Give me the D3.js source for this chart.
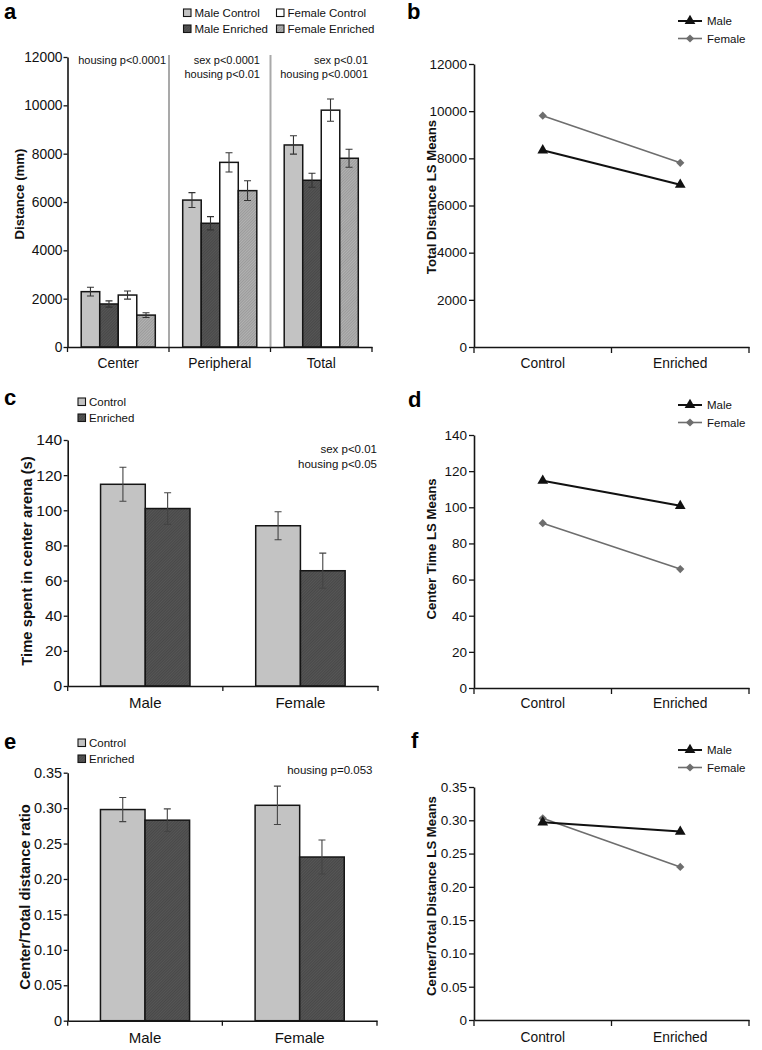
<!DOCTYPE html>
<html><head><meta charset="utf-8">
<script src="https://cdn.jsdelivr.net/npm/d3@7"></script>
<style>
body{margin:0;background:#fff}
svg{display:block;font-family:"Liberation Sans",Arial,sans-serif}
</style>
</head><body>
<svg id="chart" width="762" height="1050"></svg>
<script>
// ---------------- DATA ----------------
// Panel a
const distCategories = ["Center", "Peripheral", "Total"];
const distGroups = ["Male Control", "Male Enriched", "Female Control", "Female Enriched"];
const distMaleControl = [2290, 6080, 8360];
const distMaleEnriched = [1780, 5120, 6900];
const distFemaleControl = [2150, 7640, 9800];
const distFemaleEnriched = [1320, 6470, 7810];
const distMaleControlErr = [180, 310, 380];
const distMaleEnrichedErr = [130, 275, 290];
const distFemaleControlErr = [170, 400, 460];
const distFemaleEnrichedErr = [100, 410, 370];
const distTicks = [0, 2000, 4000, 6000, 8000, 10000, 12000];
const distAnnotations = [["housing p<0.0001"], ["sex p<0.0001", "housing p<0.01"], ["sex p<0.01", "housing p<0.0001"]];

// Panel c
const sexCategories = ["Male", "Female"];
const housingGroups = ["Control", "Enriched"];
const timeControl = [114.8, 91.2];
const timeEnriched = [101.0, 65.6];
const timeControlErr = [9.7, 8.0];
const timeEnrichedErr = [9.0, 10.0];
const timeTicks = [0, 20, 40, 60, 80, 100, 120, 140];
const timeAnnotation = ["sex p<0.01", "housing p<0.05"];

// Panel e
const ratioControl = [0.298, 0.304];
const ratioEnriched = [0.283, 0.231];
const ratioControlErr = [0.017, 0.027];
const ratioEnrichedErr = [0.016, 0.024];
const ratioTicks = [0, 0.05, 0.10, 0.15, 0.20, 0.25, 0.30, 0.35];
const ratioAnnotation = ["housing p=0.053"];

// Panels b, d, f (LS means)
const lsSeries = ["Male", "Female"];
const totalLSMale = [8340, 6880];
const totalLSFemale = [9810, 7810];
const centerLSMale = [114.7, 100.8];
const centerLSFemale = [91.2, 65.8];
const ratioLSMale = [0.297, 0.283];
const ratioLSFemale = [0.303, 0.230];

// ---------------- DRAWING ----------------
const svg = d3.select("#chart");
const defs = svg.append("defs");

function hatch(id, base, line) {
  const p = defs.append("pattern").attr("id", id).attr("patternUnits", "userSpaceOnUse")
    .attr("width", 2).attr("height", 2).attr("patternTransform", "rotate(45)");
  p.append("rect").attr("width", 2).attr("height", 2).attr("fill", base);
  p.append("line").attr("x1", 0.5).attr("y1", 0).attr("x2", 0.5).attr("y2", 2)
    .attr("stroke", line).attr("stroke-width", 0.8);
}
hatch("hDark", "#565656", "#444444");
hatch("hLight", "#b2b2b2", "#959595");

const fillMap = {
  "Male Control": "#c3c3c3", "Male Enriched": "url(#hDark)",
  "Female Control": "#ffffff", "Female Enriched": "url(#hLight)",
  "Control": "#c3c3c3", "Enriched": "url(#hDark)"
};
const INK = "#151515";

function panelLabel(txt, x, y) {
  svg.append("text").attr("x", x).attr("y", y).text(txt)
    .attr("font-size", 22).attr("font-weight", "bold").attr("fill", "#000");
}

function yAxis(g, y, x, ticks, fmt, fs, size, pad) {
  const ax = g.append("g").attr("transform", `translate(${x},0)`)
    .call(d3.axisLeft(y).tickValues(ticks).tickFormat(fmt).tickSize(size).tickSizeOuter(0).tickPadding(pad));
  ax.select(".domain").attr("stroke", INK).attr("stroke-width", 1.6);
  ax.selectAll(".tick line").attr("stroke", INK).attr("stroke-width", 1.3);
  ax.selectAll(".tick text").attr("font-size", fs).attr("fill", "#111")
    .attr("font-family", '"Liberation Sans",Arial,sans-serif');
  return ax;
}

function xAxis(g, x, yPos, fs, pad, tickLen) {
  const ax = g.append("g").attr("transform", `translate(0,${yPos})`)
    .call(d3.axisBottom(x).tickSize(0).tickSizeOuter(0).tickPadding(pad));
  ax.select(".domain").attr("stroke", INK).attr("stroke-width", 1.6);
  ax.selectAll(".tick text").attr("font-size", fs).attr("fill", "#111")
    .attr("font-family", '"Liberation Sans",Arial,sans-serif');
  const bounds = x.domain().map(d => x(d)).concat([x.range()[1]]);
  ax.selectAll(".bound").data(bounds).join("line").attr("class", "bound")
    .attr("x1", d => d).attr("x2", d => d).attr("y1", 0).attr("y2", tickLen)
    .attr("stroke", INK).attr("stroke-width", 1.3);
  return ax;
}

function yLabel(txt, x, cy, fs) {
  svg.append("text").attr("transform", `translate(${x},${cy}) rotate(-90)`)
    .attr("text-anchor", "middle").attr("font-size", fs).attr("font-weight", "bold")
    .attr("fill", "#111").text(txt);
}

function errorBars(g, data, x, y, cap, color) {
  g.selectAll(null).data(data).join("path")
    .attr("d", d => {
      const cx = x(d), y1 = y(d.v + d.e), y2 = y(d.v - d.e);
      return `M${cx - cap},${y1}H${cx + cap}M${cx},${y1}V${y2}M${cx - cap},${y2}H${cx + cap}`;
    })
    .attr("fill", "none").attr("stroke", color).attr("stroke-width", 1.1);
}

// ---------- Panel a ----------
(function () {
  const g = svg.append("g");
  const x0 = d3.scaleBand().domain(distCategories).range([67.5, 372]).paddingInner(0).paddingOuter(0);
  const x1 = d3.scaleBand().domain(distGroups).range([0, x0.bandwidth()]).paddingInner(0).paddingOuter(0.74);
  const y = d3.scaleLinear().domain([0, 12000]).range([347, 57]);
  const series = [distMaleControl, distMaleEnriched, distFemaleControl, distFemaleEnriched];
  const errs = [distMaleControlErr, distMaleEnrichedErr, distFemaleControlErr, distFemaleEnrichedErr];
  const rows = [];
  distCategories.forEach((c, i) => distGroups.forEach((gr, j) =>
    rows.push({ c, g: gr, v: series[j][i], e: errs[j][i] })));

  g.selectAll(".sep").data(distCategories.slice(1)).join("line")
    .attr("x1", d => x0(d)).attr("x2", d => x0(d)).attr("y1", 55).attr("y2", 347)
    .attr("stroke", "#a9a9a9").attr("stroke-width", 2);

  g.selectAll(".bar").data(rows).join("rect")
    .attr("x", d => x0(d.c) + x1(d.g)).attr("width", x1.bandwidth())
    .attr("y", d => y(d.v)).attr("height", d => y(0) - y(d.v))
    .attr("fill", d => fillMap[d.g]).attr("stroke", INK).attr("stroke-width", 1.5);

  errorBars(g, rows, d => x0(d.c) + x1(d.g) + x1.bandwidth() / 2, y, 3.5, "#333");

  yAxis(g, y, 67.5, distTicks, d3.format("d"), 13.8, 4, 1);
  xAxis(g, x0, 347, 13.8, 11.2, 5);
  yLabel("Distance (mm)", 24, 194, 13.2);

  const annEnd = [166, 260, 368];
  distAnnotations.forEach((lines, i) => {
    lines.forEach((t, k) => {
      g.append("text").attr("x", annEnd[i]).attr("y", 64 + k * 13.5)
        .attr("text-anchor", "end").attr("font-size", 11).attr("fill", "#111").text(t);
    });
  });

  const leg = g.append("g");
  distGroups.forEach((gr, i) => {
    const col = i >= 2 ? 1 : 0, row = i % 2;
    const lx = col ? 276.5 : 183.5, ly = row ? 25 : 9;
    leg.append("rect").attr("x", lx).attr("y", ly).attr("width", 7.5).attr("height", 7.5)
      .attr("fill", fillMap[gr]).attr("stroke", INK).attr("stroke-width", 1.1);
    leg.append("text").attr("x", lx + 11).attr("y", ly + 8).attr("font-size", 11.5)
      .attr("fill", "#111").text(gr);
  });
  panelLabel("a", 4, 19);
})();

// ---------- Bar panels c and e ----------
function groupedBars(cfg) {
  const g = svg.append("g");
  const x0 = d3.scaleBand().domain(sexCategories).range([cfg.x0, cfg.x1]).paddingInner(0).paddingOuter(0);
  const x1 = d3.scaleBand().domain(housingGroups).range([0, x0.bandwidth()]).paddingInner(0).paddingOuter(0.735);
  const y = d3.scaleLinear().domain(cfg.domain).range([cfg.yBottom, cfg.yTop]);
  const rows = [];
  sexCategories.forEach((c, i) => housingGroups.forEach((h, j) =>
    rows.push({ c, g: h, v: cfg.series[j][i], e: cfg.errs[j][i] })));
  g.selectAll(".bar").data(rows).join("rect")
    .attr("x", d => x0(d.c) + x1(d.g)).attr("width", x1.bandwidth())
    .attr("y", d => y(d.v)).attr("height", d => y(0) - y(d.v))
    .attr("fill", d => fillMap[d.g]).attr("stroke", INK).attr("stroke-width", 1.5);
  errorBars(g, rows, d => x0(d.c) + x1(d.g) + x1.bandwidth() / 2, y, 3.5, "#444");
  yAxis(g, y, cfg.x0, cfg.ticks, cfg.fmt, cfg.tickFs, 4, 1.5);
  xAxis(g, x0, cfg.yBottom, 15, cfg.catPad, 5);
  yLabel(cfg.label, cfg.labelX, cfg.labelY, 14.8);
  cfg.ann.forEach((t, k) => g.append("text").attr("x", cfg.annX).attr("y", cfg.annY + k * 14.5)
    .attr("text-anchor", "end").attr("font-size", 11.5).attr("fill", "#111").text(t));
  housingGroups.forEach((h, i) => {
    const ly = cfg.legY + i * 16;
    g.append("rect").attr("x", 78).attr("y", ly - 8).attr("width", 7.5).attr("height", 7.5)
      .attr("fill", fillMap[h]).attr("stroke", INK).attr("stroke-width", 1.1);
    g.append("text").attr("x", 89).attr("y", ly).attr("font-size", 11.5).attr("fill", "#111").text(h);
  });
}

groupedBars({
  x0: 67.7, x1: 378, yTop: 440, yBottom: 686, domain: [0, 140],
  series: [timeControl, timeEnriched], errs: [timeControlErr, timeEnrichedErr],
  ticks: timeTicks, fmt: d3.format("d"), catPad: 11.5, tickFs: 15.5,
  label: "Time spent in center arena (s)", labelX: 32, labelY: 561,
  ann: timeAnnotation, annX: 377, annY: 453, legY: 406
});
panelLabel("c", 4, 405);

groupedBars({
  x0: 67.7, x1: 377, yTop: 772.7, yBottom: 1020.7, domain: [0, 0.35],
  series: [ratioControl, ratioEnriched], errs: [ratioControlErr, ratioEnrichedErr],
  ticks: ratioTicks, fmt: d => d === 0 ? "0" : d3.format(".2f")(d), catPad: 12, tickFs: 14.5,
  label: "Center/Total distance ratio", labelX: 30, labelY: 897,
  ann: ratioAnnotation, annX: 372.5, annY: 774, legY: 747
});
panelLabel("e", 4, 749);

// ---------- Line panels b, d, f ----------
function linePanel(cfg) {
  const g = svg.append("g");
  const x = d3.scaleBand().domain(housingGroups).range([474, 749]);
  const y = d3.scaleLinear().domain(cfg.domain).range([cfg.yBottom, cfg.yTop]);
  const cx = d => x(d) + x.bandwidth() / 2;
  yAxis(g, y, 474, cfg.ticks, cfg.fmt, 13.5, 5, 2);
  xAxis(g, x, cfg.yBottom, 13.8, cfg.catPad, 6);
  yLabel(cfg.label, 436, cfg.labelY, 13.2);

  const styles = {
    Male: { color: "#111", width: 2, sym: d3.symbolTriangle, size: 50, rot: 0 },
    Female: { color: "#6e6e6e", width: 1.6, sym: d3.symbolSquare, size: 34, rot: 45 }
  };
  const data = { Male: cfg.male, Female: cfg.female };
  const line = d3.line().x(d => cx(d.h)).y(d => y(d.v));
  ["Female", "Male"].forEach(s => {
    const pts = housingGroups.map((h, i) => ({ h, v: data[s][i] }));
    const st = styles[s];
    g.append("path").datum(pts).attr("d", line).attr("fill", "none")
      .attr("stroke", st.color).attr("stroke-width", st.width);
    g.selectAll(null).data(pts).join("path")
      .attr("d", d3.symbol(st.sym, st.size))
      .attr("transform", d => `translate(${cx(d.h)},${y(d.v)}) rotate(${st.rot})`)
      .attr("fill", st.color);
  });
  lsSeries.forEach((s, i) => {
    const st = styles[s], ly = cfg.legY + i * 17.5;
    g.append("line").attr("x1", 678).attr("x2", 702).attr("y1", ly).attr("y2", ly)
      .attr("stroke", st.color).attr("stroke-width", st.width);
    g.append("path").attr("d", d3.symbol(st.sym, st.size))
      .attr("transform", `translate(690,${ly}) rotate(${st.rot})`).attr("fill", st.color);
    g.append("text").attr("x", 707).attr("y", ly + 4).attr("font-size", 11.5)
      .attr("fill", "#111").text(s);
  });
}

linePanel({
  domain: [0, 12000], yTop: 64, yBottom: 347, ticks: distTicks, fmt: d3.format("d"),
  male: totalLSMale, female: totalLSFemale, catPad: 11.2,
  label: "Total Distance LS Means", labelY: 197, legY: 21
});
panelLabel("b", 407, 19);

linePanel({
  domain: [0, 140], yTop: 435, yBottom: 688, ticks: timeTicks, fmt: d3.format("d"),
  male: centerLSMale, female: centerLSFemale, catPad: 10.2,
  label: "Center Time LS Means", labelY: 549, legY: 405
});
panelLabel("d", 408, 407);

linePanel({
  domain: [0, 0.35], yTop: 787, yBottom: 1020, ticks: ratioTicks,
  fmt: d => d === 0 ? "0" : d3.format(".2f")(d),
  male: ratioLSMale, female: ratioLSFemale, catPad: 12.2,
  label: "Center/Total Distance LS Means", labelY: 896, legY: 750
});
panelLabel("f", 411, 748);
</script>
</body></html>
